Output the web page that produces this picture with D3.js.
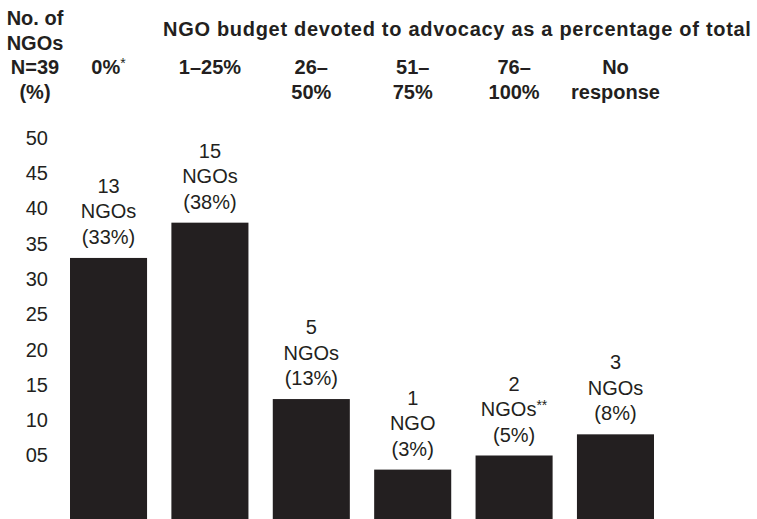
<!DOCTYPE html>
<html>
<head>
<meta charset="utf-8">
<script src="https://cdn.jsdelivr.net/npm/d3@7"></script>
<style>
  html, body { margin: 0; padding: 0; background: #ffffff; }
  svg { display: block; }
  text { font-family: "Liberation Sans", Arial, Helvetica, sans-serif; fill: #231f20; }
</style>
</head>
<body>
<svg id="chart" width="757" height="519"></svg>
<script>
// Share of NGO budget devoted to advocacy (N = 39)
const categories   = ["0%", "1–25%", "26–50%", "51–75%", "76–100%", "No response"];
const headerLines  = [["0%"], ["1–25%"], ["26–", "50%"], ["51–", "75%"], ["76–", "100%"], ["No", "response"]];
const headerMarks  = ["*", "", "", "", "", ""];
const ngoCounts    = [13, 15, 5, 1, 2, 3];
const sharePct     = [33, 38, 13, 3, 5, 8];
const countMarks   = ["", "", "", "", "**", ""];
const yTickValues  = [5, 10, 15, 20, 25, 30, 35, 40, 45, 50];
const axisTitle    = ["No. of", "NGOs", "N=39", "(%)"];
const chartTitle   = "NGO budget devoted to advocacy as a percentage of total";

const W = 757, H = 519;
const ink = "#231f20";
const svg = d3.select("#chart");

// Scales: bars run from the value down past the zero line to the bottom edge
const x = d3.scaleBand()
  .domain(categories)
  .range([70, 654])
  .paddingInner(0.24)
  .paddingOuter(0);

const yFloor = -4;
const y = d3.scaleLinear()
  .domain([yFloor, 50])
  .range([H, 138]);

// Left axis: bare numbers, no line or tick marks
const yAxis = d3.axisLeft(y)
  .tickValues(yTickValues)
  .tickFormat(d3.format("02d"))
  .tickSize(0)
  .tickPadding(0);

const axisG = svg.append("g")
  .attr("transform", "translate(48,0)")
  .call(yAxis);
axisG.select(".domain").remove();
axisG.selectAll("text")
  .attr("fill", ink)
  .style("font-family", "'Liberation Sans', Arial, sans-serif")
  .style("font-size", "20px");

// Bars
const rows = categories.map((c, i) => ({
  cat: c, lines: headerLines[i], hmark: headerMarks[i],
  count: ngoCounts[i], pct: sharePct[i], cmark: countMarks[i]
}));

svg.append("g").selectAll("rect")
  .data(rows)
  .join("rect")
  .attr("x", d => x(d.cat))
  .attr("y", d => y(d.pct))
  .attr("width", x.bandwidth())
  .attr("height", d => y(yFloor) - y(d.pct))
  .attr("fill", ink);

// Value labels above each bar: count, noun, percentage
const lineGap = 25.5;
const labels = svg.append("g").selectAll("text")
  .data(rows)
  .join("text")
  .attr("text-anchor", "middle")
  .style("font-size", "20px")
  .attr("transform", d => `translate(${x(d.cat) + x.bandwidth() / 2},${y(d.pct) - 14})`);

labels.append("tspan")
  .attr("x", 0).attr("y", -2 * lineGap)
  .text(d => d.count);
labels.append("tspan")
  .attr("x", 0).attr("y", -lineGap)
  .text(d => d.count === 1 ? "NGO" : "NGOs");
labels.filter(d => d.cmark)
  .append("tspan")
  .style("font-size", "14px")
  .attr("dy", -6)
  .text(d => d.cmark);
labels.append("tspan")
  .attr("x", 0).attr("y", 0)
  .text(d => `(${d.pct}%)`);

// Category headings
const heads = svg.append("g").selectAll("text")
  .data(rows)
  .join("text")
  .attr("text-anchor", "middle")
  .style("font-size", "20px")
  .style("font-weight", "bold")
  .attr("transform", d => `translate(${x(d.cat) + x.bandwidth() / 2},0)`);

heads.each(function(d) {
  const t = d3.select(this);
  d.lines.forEach((ln, k) => {
    t.append("tspan").attr("x", 0).attr("y", 73.5 + k * 25).text(ln);
  });
  if (d.hmark) {
    t.append("tspan")
      .style("font-size", "14px")
      .style("font-weight", "normal")
      .attr("dy", -6)
      .text(d.hmark);
  }
});

// Axis heading
svg.append("text")
  .attr("text-anchor", "middle")
  .style("font-size", "20px")
  .style("font-weight", "bold")
  .selectAll("tspan")
  .data(axisTitle)
  .join("tspan")
  .attr("x", 35)
  .attr("y", (d, i) => 25 + i * 24.5)
  .text(d => d);

// Chart heading
svg.append("text")
  .attr("x", 163)
  .attr("y", 36)
  .style("font-size", "20px")
  .style("font-weight", "bold")
  .style("letter-spacing", "0.7px")
  .text(chartTitle);
</script>
</body>
</html>
